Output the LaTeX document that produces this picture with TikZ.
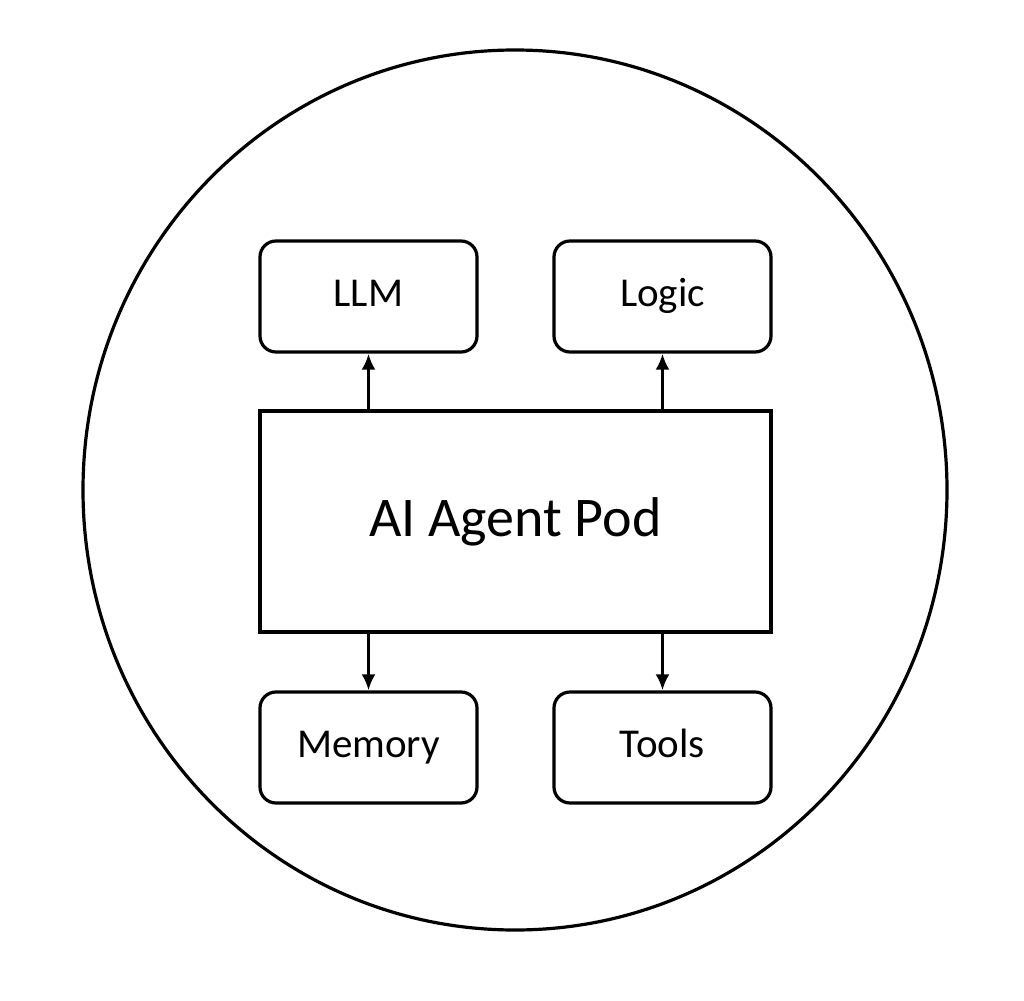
\documentclass[tikz,border=0pt]{standalone}
\usepackage{fontspec}
\setmainfont{Carlito}
\usetikzlibrary{arrows.meta,shapes.geometric}
\begin{document}
\begin{tikzpicture}[x=0.5pt,y=-0.5pt,
  box/.style={draw,line width=1.6pt,rounded corners=8pt,minimum width=108.5pt,minimum height=55.5pt,text height=14pt,text depth=4pt,font=\fontsize{20.5}{24}\selectfont},
  arr/.style={-{Latex[length=8pt,width=7pt]},line width=1.6pt}]
\useasboundingbox (0,0) rectangle (1024,1001);
\node[draw,line width=1.6pt,ellipse,minimum width=432pt,minimum height=440pt,inner sep=0pt] (outer) at (515,490) {};
\node[draw,line width=1.6pt,minimum width=255.5pt,minimum height=110.5pt,font=\fontsize{28}{32}\selectfont] (pod) at (515.5,521.5) {AI Agent Pod};
\node[box] (llm) at (368.5,296.5) {LLM};
\node[box] (logic) at (662.5,296.5) {Logic};
\node[box] (mem) at (368.5,747.5) {Memory};
\node[box] (tools) at (662.5,747.5) {Tools};
\draw[arr] (pod.north -| llm.south) -- (llm.south);
\draw[arr] (pod.north -| logic.south) -- (logic.south);
\draw[arr] (pod.south -| mem.north) -- (mem.north);
\draw[arr] (pod.south -| tools.north) -- (tools.north);
\end{tikzpicture}
\end{document}
